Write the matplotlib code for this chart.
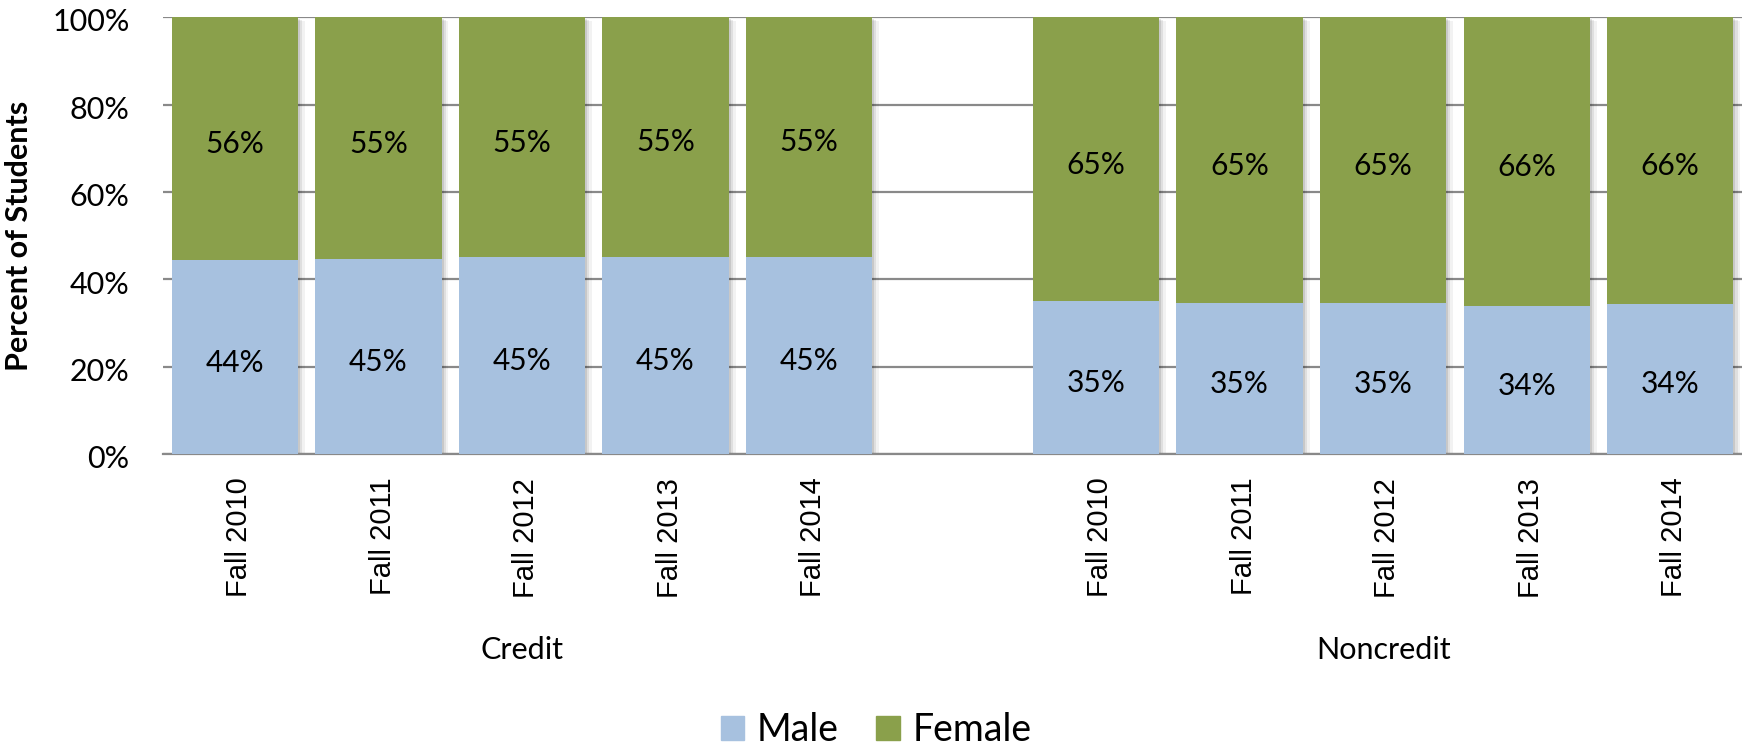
import matplotlib.pyplot as plt
import matplotlib.patheffects as pe
from matplotlib.patches import Patch
from matplotlib.transforms import blended_transform_factory, ScaledTranslation

plt.rcParams['font.family'] = ['Lato', 'DejaVu Sans']

# Data (percent of students)
groups = ['Credit', 'Noncredit']
terms = ['Fall 2010', 'Fall 2011', 'Fall 2012', 'Fall 2013', 'Fall 2014']
male_credit = [44.4, 44.6, 45.1, 45.2, 45.2]
female_credit = [55.6, 55.4, 54.9, 54.8, 54.8]
male_noncredit = [35.1, 34.6, 34.6, 33.8, 34.4]
female_noncredit = [64.9, 65.4, 65.4, 66.2, 65.6]

blue = '#A7C1DF'
green = '#8AA04B'
grid_col = '#898989'

# category slots, one empty slot between the groups
x_credit = list(range(len(terms)))
x_noncredit = [i + len(terms) + 1 for i in range(len(terms))]
xs = x_credit + x_noncredit
male = male_credit + male_noncredit
female = female_credit + female_noncredit
width = 0.88

fig = plt.figure(figsize=(17.42, 7.48), dpi=100)
ax = fig.add_axes([0.0936, 0.393, 0.9064, 0.584])

# soft shadow behind each stack
ax.bar(xs, [m + f for m, f in zip(male, female)], width, color='white', zorder=2,
       path_effects=[pe.SimplePatchShadow(offset=(5, -3), shadow_rgbFace='#000000', alpha=0.05),
                     pe.SimplePatchShadow(offset=(3, -2), shadow_rgbFace='#000000', alpha=0.08),
                     pe.SimplePatchShadow(offset=(1.5, -1), shadow_rgbFace='#000000', alpha=0.10),
                     pe.Normal()])
ax.bar(xs, male, width, color=blue, zorder=3, label='Male')
ax.bar(xs, female, width, bottom=male, color=green, zorder=3, label='Female')

for x, m, f in zip(xs, male, female):
    ax.annotate(f'{m:.0f}%', (x, m / 2), xytext=(0, -4), textcoords='offset points',
                ha='center', va='center', fontsize=21.5, zorder=4)
    ax.annotate(f'{f:.0f}%', (x, m + f / 2), xytext=(0, -4), textcoords='offset points',
                ha='center', va='center', fontsize=21.5, zorder=4)

ax.set_xlim(-0.5, len(xs) + 0.5)
ax.set_ylim(0, 100)
ax.set_yticks(range(0, 101, 20))
ax.set_yticklabels([f'{v}%' for v in range(0, 101, 20)], fontsize=22)
ax.set_xticks(xs)
ax.set_xticklabels(terms + terms, rotation=90, fontsize=21, family='Liberation Sans')
ax.tick_params(axis='y', length=0, pad=24)
ax.tick_params(axis='x', length=0, pad=17)

# small nudges to sit the tick labels like the original
for lab in ax.get_yticklabels():
    lab.set_transform(lab.get_transform() + ScaledTranslation(0, -2 / 72, fig.dpi_scale_trans))
for lab in ax.get_xticklabels():
    lab.set_transform(lab.get_transform() + ScaledTranslation(3 / 72, 0, fig.dpi_scale_trans))

ax.set_axisbelow(True)
ax.yaxis.grid(True, color=grid_col, linewidth=1.6)
for side in ['left', 'right', 'top']:
    ax.spines[side].set_visible(False)
ax.spines['bottom'].set_color(grid_col)
ax.spines['bottom'].set_linewidth(1.6)

ax.set_ylabel('Percent of Students', fontsize=22, fontweight='bold', labelpad=14)

# group labels under the term labels
trans = blended_transform_factory(ax.transData, fig.transFigure)
for name, pos in zip(groups, [x_credit, x_noncredit]):
    ax.text(sum(pos) / len(pos), 0.131, name, transform=trans, ha='center', va='center',
            fontsize=22)

handles = [Patch(color=blue, label='Male'), Patch(color=green, label='Female')]
fig.legend(handles=handles, loc='center', bbox_to_anchor=(0.503, 0.024), ncol=2,
           frameon=False, fontsize=27, handlelength=0.62, handleheight=0.62,
           handletextpad=0.35, columnspacing=1.0, borderpad=0)

fig.savefig('out.png', dpi=100)
